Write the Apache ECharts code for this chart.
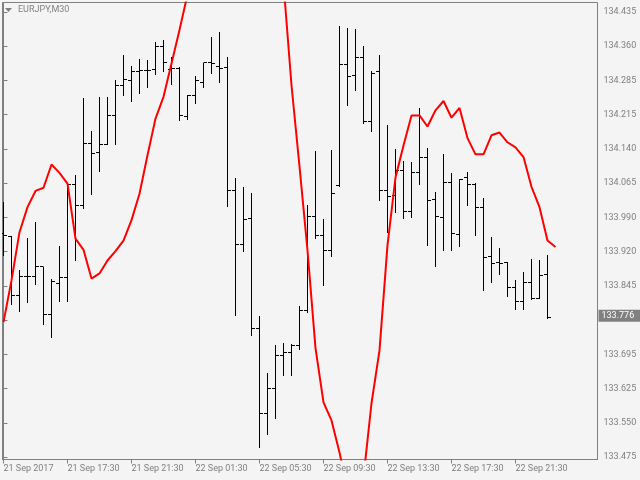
<!DOCTYPE html>
<html>
<head>
<meta charset="utf-8">
<script src="https://cdn.jsdelivr.net/npm/echarts@6/dist/echarts.min.js"></script>
<style>
html,body{margin:0;padding:0;background:#f4f4f4;}
#chart{width:640px;height:480px;}
</style>
</head>
<body>
<div id="chart"></div>
<script>
const symbolTitle = "EURJPY,M30";
const opens = [133.957,133.951,133.823,133.865,133.865,133.886,133.782,133.849,133.863,134.063,
134.018,134.151,134.132,134.150,134.211,134.277,134.288,134.307,134.308,134.311,
134.361,134.311,134.313,134.209,134.255,134.283,134.326,134.317,134.316,134.050,
133.933,133.989,133.752,133.569,133.623,133.694,133.700,133.716,133.791,133.994,
133.953,133.921,134.060,134.322,134.298,134.337,134.199,134.307,134.050,134.040,
134.094,134.005,134.088,134.122,134.031,133.991,134.067,133.955,134.077,134.063,
134.013,133.907,133.894,133.894,133.840,133.811,133.852,133.818,133.869];
const highs = [134.025,133.951,133.879,133.948,133.981,133.886,133.860,133.931,134.066,134.083,
134.249,134.178,134.252,134.251,134.288,134.342,134.318,134.333,134.332,134.370,
134.374,134.337,134.316,134.257,134.298,134.326,134.381,134.391,134.337,134.078,
134.057,134.045,133.779,133.656,133.716,133.720,133.718,133.800,134.018,134.135,
133.989,134.137,134.404,134.401,134.398,134.361,134.308,134.342,134.191,134.139,
134.113,134.111,134.229,134.141,134.046,134.128,134.087,134.074,134.089,134.066,
134.033,133.949,133.927,133.895,133.856,133.874,133.902,133.899,133.910];
const lows = [133.910,133.806,133.790,133.810,133.848,133.761,133.733,133.812,133.812,133.901,
134.013,134.043,134.092,134.150,134.150,134.257,134.244,134.261,134.273,134.302,
134.308,134.280,134.203,134.205,134.239,134.273,134.303,134.284,134.017,133.781,
133.920,133.738,133.497,133.524,133.559,133.651,133.651,133.708,133.788,133.948,
133.846,133.908,134.060,134.234,134.267,134.196,134.178,134.030,133.960,134.004,
133.991,133.993,134.063,133.933,133.888,133.921,133.921,133.931,134.019,133.955,
133.836,133.853,133.869,133.822,133.795,133.795,133.815,133.818,133.774];
const closes = [133.953,133.823,133.865,133.865,133.886,133.782,133.854,133.863,134.063,134.018,
134.151,134.129,134.150,134.211,134.277,134.289,134.307,134.308,134.309,134.361,
134.325,134.313,134.212,134.255,134.288,134.326,134.324,134.313,134.050,133.933,
133.988,133.752,133.569,133.623,133.694,133.700,133.716,133.791,133.994,133.953,
133.921,134.043,134.322,134.296,134.337,134.198,134.303,134.050,134.036,134.094,
134.005,134.088,134.122,134.029,133.993,134.067,133.957,134.073,134.063,134.013,
133.906,133.893,133.893,133.841,133.811,133.852,133.817,133.867,133.776];
const indicator = [133.766,133.856,133.960,134.014,134.049,134.056,134.106,134.088,134.065,133.946,
133.922,133.860,133.871,133.899,133.919,133.942,133.986,134.043,134.126,134.205,
134.252,134.324,134.396,134.473,134.54,134.60,134.65,134.69,134.71,134.72,
134.71,134.69,134.65,134.60,134.55,134.497,134.277,134.102,133.921,133.710,
133.593,133.554,133.485,133.403,133.371,133.431,133.591,133.705,133.932,134.078,
134.147,134.212,134.212,134.188,134.223,134.243,134.207,134.228,134.163,134.128,
134.128,134.169,134.175,134.154,134.143,134.122,134.058,134.014,133.942,133.928];
const xTickIndex = [0,8,16,24,32,40,48,56,64];
const xTickLabels = ["21 Sep 2017","21 Sep 17:30","21 Sep 21:30","22 Sep 01:30","22 Sep 05:30","22 Sep 09:30","22 Sep 13:30","22 Sep 17:30","22 Sep 21:30"];
const yTickLabels = ["134.435","134.360","134.285","134.215","134.140","134.065","133.990","133.920","133.845","133.770","133.695","133.625","133.550","133.475"];
const currentPrice = 133.776;

const yFirst = Number(yTickLabels[0]);
const yLast = Number(yTickLabels[yTickLabels.length - 1]);
const yStep = (yFirst - yLast) / (yTickLabels.length - 1);
const yTickValues = yTickLabels.map((s, k) => yFirst - k * yStep);

const ohlc = opens.map((o, i) => [i, o, highs[i], lows[i], closes[i]]);
const lineData = indicator.map((v, i) => [i, v]);

const FONT = 'Roboto';
const TXT = '#808080';
const chart = echarts.init(document.getElementById('chart'), null, {renderer: 'canvas'});

function snap(v) { return Math.round(v - 0.5) + 0.5; }

chart.setOption({
  animation: false,
  backgroundColor: '#f4f4f4',
  textStyle: {fontFamily: FONT},
  grid: {left: 2.5, top: 2.5, right: 42.5, bottom: 20.5, show: true, borderColor: '#808080', borderWidth: 1, backgroundColor: '#f4f4f4'},
  graphic: [
    {type: 'polygon', shape: {points: [[5, 8], [12, 8], [8.5, 12]]}, style: {fill: '#808080'}},
    {type: 'text', left: 18, top: 5, style: {text: symbolTitle, fill: TXT, font: '9px ' + FONT}}
  ],
  xAxis: {
    type: 'value', min: -0.125, max: 74.25,
    splitLine: {show: false},
    axisLine: {show: true, lineStyle: {color: '#808080'}},
    axisTick: {show: true, length: 4, customValues: xTickIndex, lineStyle: {color: '#808080'}},
    axisLabel: {customValues: xTickIndex, align: 'left', margin: 5, color: TXT, fontFamily: FONT, fontSize: 9,
      formatter: v => xTickLabels[xTickIndex.indexOf(Math.round(v))] || ''}
  },
  yAxis: {
    type: 'value', position: 'right', min: 133.4697, max: 134.4555, scale: true,
    splitLine: {show: false},
    axisLine: {show: true, lineStyle: {color: '#808080'}},
    axisTick: {show: true, length: 4, customValues: yTickValues, lineStyle: {color: '#808080'}},
    axisLabel: {customValues: yTickValues, margin: 6, color: TXT, fontFamily: FONT, fontSize: 9,
      formatter: v => {
        if (Math.abs(v - currentPrice) < yStep / 3) return '';
        const k = Math.round((yFirst - v) / yStep);
        return yTickLabels[k] || '';
      }}
  },
  series: [
    {
      type: 'custom',
      data: ohlc,
      encode: {x: 0, y: [1, 2, 3, 4]},
      clip: true,
      z: 3,
      renderItem: function (params, api) {
        const i = api.value(0);
        const o = api.coord([i, api.value(1)]);
        const h = api.coord([i, api.value(2)]);
        const l = api.coord([i, api.value(3)]);
        const c = api.coord([i, api.value(4)]);
        const x = snap(o[0]);
        const st = {stroke: '#000000', lineWidth: 1};
        return {type: 'group', children: [
          {type: 'line', shape: {x1: x, y1: Math.round(h[1]), x2: x, y2: Math.round(l[1]) + 1}, style: st},
          {type: 'line', shape: {x1: x - 3.5, y1: snap(o[1]), x2: x, y2: snap(o[1])}, style: st},
          {type: 'line', shape: {x1: x, y1: snap(c[1]), x2: x + 3.5, y2: snap(c[1])}, style: st}
        ]};
      }
    },
    {
      type: 'line',
      data: lineData,
      showSymbol: false,
      clip: true,
      z: 4,
      lineStyle: {color: '#ff0000', width: 2},
      markLine: {
        silent: true,
        symbol: ['none', 'none'],
        lineStyle: {color: 'rgba(0,0,0,0)', width: 1, type: 'solid'},
        emphasis: {disabled: true},
        data: [{yAxis: currentPrice}],
        label: {show: true, position: 'end', distance: 1, formatter: currentPrice.toFixed(3),
          color: '#ffffff', backgroundColor: '#808080', padding: [2, 10, 1, 3], lineHeight: 9,
          fontFamily: FONT, fontSize: 9}
      }
    }
  ]
});
</script>
</body>
</html>
